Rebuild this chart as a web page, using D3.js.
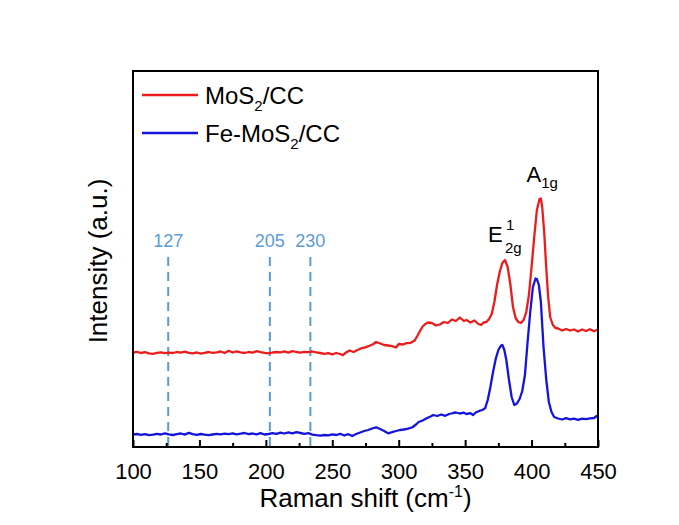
<!DOCTYPE html>
<html>
<head>
<meta charset="utf-8">
<script src="https://cdn.jsdelivr.net/npm/d3@7"></script>
<style>
  html, body { margin: 0; padding: 0; background: #fff; }
  svg { display: block; font-family: "Liberation Sans", Arial, sans-serif; }
</style>
</head>
<body>
<svg id="chart" width="679" height="525"></svg>
<script>
// ---------------- data ----------------
const xTicks = [100, 150, 200, 250, 300, 350, 400, 450];
const xMinorTicks = [125, 175, 225, 275, 325, 375, 425];

const markerPos = [126.5, 203, 233.5];
const markerLabels = ["127", "205", "230"];

const redShift = [100,103,106,109,112,115,118,121,124,127,130,133,136,139,142,145,148,151,154,157,160,163,166,169,172,175,178,181,184,187,190,193,196,199,202,205,208,211,214,217,220,223,226,229,232,235,238,241,244,247,250,253,256,258,260,263,266,269,272,275,278,281,283,286,289,292,295,298,300,303,306,309,312,314,316,318,320,322,325,328,331,334,337,340,343,346,349,351,354,357,360,362,364,366,368,370,372,374,376,378,380,382,384,386,388,390,392,394,396,398,400,402,404,406,407,408,409.5,411,412.5,414,416,418,420,423,426,429,432,435,438,441,444,447,450];
const redIntensity = [94.5,95.2,94.0,94.8,93.6,93.2,94.1,94.6,93.8,94.4,94.0,95.0,94.3,95.3,94.2,93.7,94.5,93.4,94.2,95.0,94.1,94.7,95.5,94.0,96.2,94.5,95.6,94.6,94.0,95.0,94.3,95.8,94.8,94.2,93.6,94.5,95.0,94.7,95.6,94.4,95.9,95.0,94.4,95.2,94.8,95.5,94.6,94.0,93.2,93.8,92.6,94.0,93.0,91.8,94.2,96.5,95.0,97.0,98.8,99.6,101.2,103.0,105.0,103.5,102.0,101.5,100.8,99.5,103.0,102.5,103.8,104.2,106.5,111.0,116.0,120.5,123.0,124.5,124.0,121.5,122.5,125.0,124.0,127.5,126.0,129.5,126.0,127.0,124.5,126.5,123.0,122.0,124.5,125.0,128.0,133.0,145,162,175,184,187,180,163,140,129,125,124,127,135,152,180,210,237,248,248.5,240,215,180,150,130,122,119,118.5,116.5,118,116.5,117.5,115.5,117.5,116,117.8,115.8,117.5];

const blueShift = [100,103,106,109,112,115,118,121,124,127,130,133,136,139,142,145,148,151,154,157,160,163,166,169,172,175,178,181,184,187,190,193,196,199,202,205,208,211,214,217,220,223,226,229,232,235,238,241,244,247,250,253,256,259,262,265,268,271,274,277,280,283,286,289,292,295,298,301,304,307,310,313,315,318,321,324,326,329,332,335,338,341,343,346,349,351,354,356,358,361,363,365,367,369,371,373,375,377,378,379.5,381,383,385,387,389,391,393,395,397,399,401,403,404,405.5,407,409,411,413,415,417,420,423,426,429,432,435,438,441,444,447,449,450];
const blueIntensity = [12.5,13.0,12.2,12.8,11.8,12.4,13.2,12.5,13.6,12.6,12.0,12.8,13.5,12.4,14.2,12.8,12.2,13.0,12.3,11.8,12.5,13.2,12.6,13.4,12.8,13.6,12.7,13.3,14.0,12.9,13.5,12.6,13.8,12.5,13.0,13.8,13.2,14.4,13.5,14.6,13.6,14.8,14.0,13.2,13.8,12.4,11.8,11.3,12.0,11.6,12.7,12.0,13.2,11.5,12.8,11.0,13.0,14.5,16.0,17.0,18.5,19.7,18.0,16.0,13.7,14.8,16.0,17.0,17.5,18.3,19.5,22.5,25.0,26.5,28.7,30.5,32.0,31.0,32.5,31.2,33.0,34.0,34.5,33.5,34.3,33.0,33.8,32.0,34.5,36.3,37.0,38.7,47.0,60,75,88,97,101.5,102,97,87,67,50,42,43.5,48,56,72,105,135,160,168.5,168,162,145,100,68,45,35,30,28.5,27.5,28.8,27.6,28.4,27.2,28.3,27.8,28.6,29.0,31.0,30.0];

const seriesNames = ["MoS2/CC", "Fe-MoS2/CC"];
const seriesColors = ["#ec1c1c", "#1414dc"];

// ---------------- layout ----------------
const svg = d3.select("#chart");
const frame = {left: 133, right: 598, top: 71, bottom: 447};
const x = d3.scaleLinear().domain([100, 450]).range([frame.left, frame.right]);
const y = d3.scaleLinear().domain([0, 376]).range([frame.bottom, frame.top]);

// dashed marker lines
const markerColor = "#5b9bd5";
const mk = svg.append("g");
markerPos.forEach((p, i) => {
  mk.append("line")
    .attr("x1", x(p)).attr("x2", x(p))
    .attr("y1", 257).attr("y2", frame.bottom)
    .attr("stroke", markerColor).attr("stroke-width", 2)
    .attr("stroke-dasharray", "9,6");
  mk.append("text")
    .attr("x", x(p)).attr("y", 247)
    .attr("text-anchor", "middle")
    .attr("font-size", 18).attr("fill", markerColor)
    .text(markerLabels[i]);
});

// curves
const line = d3.line().x(d => x(d[0])).y(d => y(d[1]));
const redData = redShift.map((s, i) => [s, redIntensity[i]]);
const blueData = blueShift.map((s, i) => [s, blueIntensity[i]]);
[redData, blueData].forEach((data, i) => {
  svg.append("path").datum(data)
    .attr("d", line)
    .attr("fill", "none")
    .attr("stroke", seriesColors[i])
    .attr("stroke-width", 2.3)
    .attr("stroke-linejoin", "round");
});

// frame
svg.append("rect")
  .attr("x", frame.left).attr("y", frame.top)
  .attr("width", frame.right - frame.left).attr("height", frame.bottom - frame.top)
  .attr("fill", "none").attr("stroke", "#000").attr("stroke-width", 2);

// bottom axis
const ax = svg.append("g").attr("transform", `translate(0,${frame.bottom})`)
  .call(d3.axisBottom(x).tickValues(xTicks).tickSize(-7).tickPadding(16).tickFormat(d3.format("d")));
ax.select(".domain").remove();
ax.selectAll(".tick line").attr("stroke", "#000").attr("stroke-width", 2);
ax.selectAll(".tick text").attr("font-size", 22).attr("fill", "#000")
  .attr("font-family", "Liberation Sans, Arial, sans-serif");
const axm = svg.append("g").attr("transform", `translate(0,${frame.bottom})`)
  .call(d3.axisBottom(x).tickValues(xMinorTicks).tickSize(-4).tickFormat(""));
axm.select(".domain").remove();
axm.selectAll(".tick line").attr("stroke", "#000").attr("stroke-width", 2);

// axis titles
const xt = svg.append("text")
  .attr("x", (frame.left + frame.right) / 2).attr("y", 507)
  .attr("text-anchor", "middle").attr("font-size", 26).attr("fill", "#000");
xt.append("tspan").text("Raman shift (cm");
xt.append("tspan").attr("font-size", 16).attr("dy", -10).text("-1");
xt.append("tspan").attr("dy", 10).text(")");

svg.append("text")
  .attr("transform", `translate(107,${(frame.top + frame.bottom) / 2 + 2}) rotate(-90)`)
  .attr("text-anchor", "middle").attr("font-size", 26).attr("fill", "#000")
  .text("Intensity (a.u.)");

// legend
const legY = [95, 133];
seriesNames.forEach((name, i) => {
  svg.append("line")
    .attr("x1", 142).attr("x2", 198).attr("y1", legY[i]).attr("y2", legY[i])
    .attr("stroke", seriesColors[i]).attr("stroke-width", 2.3);
  const t = svg.append("text").attr("x", 205).attr("y", legY[i] + 9)
    .attr("font-size", 24).attr("fill", "#000");
  const parts = name.split("2");
  t.append("tspan").text(parts[0]);
  t.append("tspan").attr("font-size", 15).attr("dy", 7).text("2");
  t.append("tspan").attr("dy", -7).text(parts[1]);
});

// peak labels
const a = svg.append("text").attr("x", x(406) - 13).attr("y", 182)
  .attr("font-size", 22).attr("fill", "#000");
a.append("tspan").text("A");
a.append("tspan").attr("font-size", 15).attr("dy", 6).text("1g");

svg.append("text").attr("x", x(380) - 17).attr("y", 242)
  .attr("font-size", 22).attr("fill", "#000").text("E");
svg.append("text").attr("x", x(380) + 1).attr("y", 230)
  .attr("font-size", 15).attr("fill", "#000").text("1");
svg.append("text").attr("x", x(380) + 0).attr("y", 253)
  .attr("font-size", 15).attr("fill", "#000").text("2g");
</script>
</body>
</html>
